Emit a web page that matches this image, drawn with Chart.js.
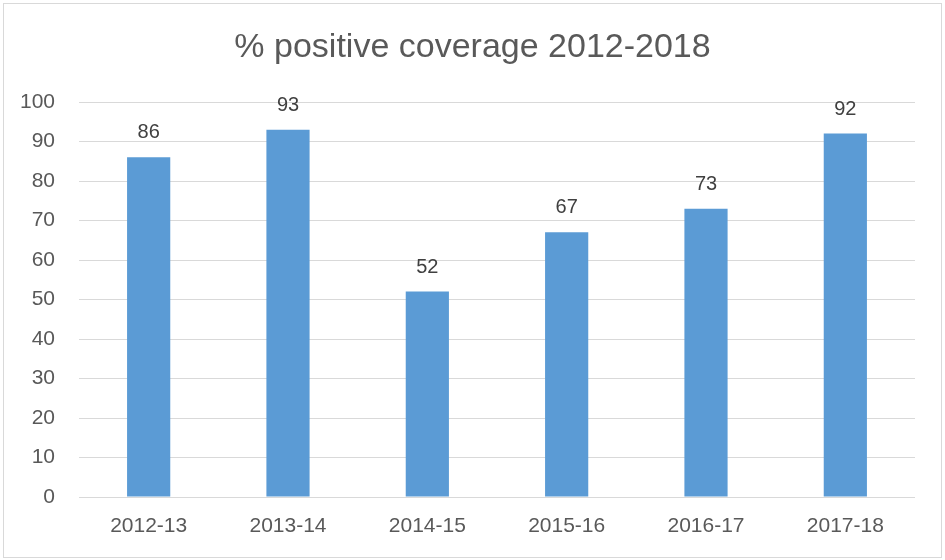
<!DOCTYPE html>
<html>
<head>
<meta charset="utf-8">
<script src="https://cdn.jsdelivr.net/npm/chart.js@4"></script>
<style>
    html, body { margin: 0; padding: 0; background: #ffffff; }
    #wrap { width: 945px; height: 560px; position: relative; }
</style>
</head>
<body>
<div id="wrap"><canvas id="coverageChart"></canvas></div>
<script>
/* ---------- Données ---------- */
const seasons = ["2012-13", "2013-14", "2014-15", "2015-16", "2016-17", "2017-18"];
const positivePct = [86, 93, 52, 67, 73, 92];
const yMin = 0;
const yMax = 100;
const yStep = 10;
const chartTitle = "% positive coverage 2012-2018";

const FONT = "'Liberation Sans', Arial, sans-serif";

/* ---------- Cadre gris + titre centré sur toute la largeur ---------- */
const frame = {
    id: "frame",
    beforeDraw(chart) {
        const ctx = chart.ctx;
        ctx.save();
        ctx.fillStyle = "#ffffff";
        ctx.fillRect(0, 0, chart.width, chart.height);
        ctx.strokeStyle = "#d9d9d9";
        ctx.lineWidth = 1;
        ctx.strokeRect(3.5, 3.5, chart.width - 7, chart.height - 6);

        ctx.font = "34px " + FONT;
        ctx.fillStyle = "#595959";
        ctx.textAlign = "center";
        ctx.textBaseline = "middle";
        ctx.fillText(chartTitle, chart.width / 2, 48);
        ctx.restore();
    }
};

/* ---------- Valeurs au-dessus des barres ---------- */
const valueLabels = {
    id: "valueLabels",
    afterDatasetsDraw(chart) {
        const ctx = chart.ctx;
        const meta = chart.getDatasetMeta(0);
        ctx.save();
        ctx.font = "20px " + FONT;
        ctx.fillStyle = "#404040";
        ctx.textAlign = "center";
        ctx.textBaseline = "alphabetic";
        meta.data.forEach((bar, i) => {
            ctx.fillText(String(chart.data.datasets[0].data[i]), bar.x, bar.y - 19);
        });
        ctx.restore();
    }
};

new Chart(document.getElementById("coverageChart"), {
    type: "bar",
    data: {
        labels: seasons,
        datasets: [{
            data: positivePct,
            backgroundColor: "#5b9bd5",
            categoryPercentage: 1,
            barPercentage: 0.31
        }]
    },
    options: {
        responsive: true,
        maintainAspectRatio: false,
        animation: false,
        layout: { padding: { left: 0, right: 30, top: 102, bottom: 0 } },
        plugins: {
            legend: { display: false },
            tooltip: { enabled: false },
            title: { display: false }
        },
        scales: {
            x: {
                grid: { display: false, drawTicks: false },
                border: { display: false },
                ticks: { color: "#595959", font: { family: FONT, size: 21 }, padding: 17 },
                afterFit(scale) { scale.height = 63; }
            },
            y: {
                min: yMin,
                max: yMax,
                grid: { color: "#d9d9d9", lineWidth: 1, drawTicks: false },
                border: { display: false },
                ticks: {
                    stepSize: yStep,
                    color: "#595959",
                    font: { family: FONT, size: 21 },
                    padding: 24
                },
                afterFit(scale) { scale.width = 79; }
            }
        }
    },
    plugins: [frame, valueLabels]
});
</script>
</body>
</html>
